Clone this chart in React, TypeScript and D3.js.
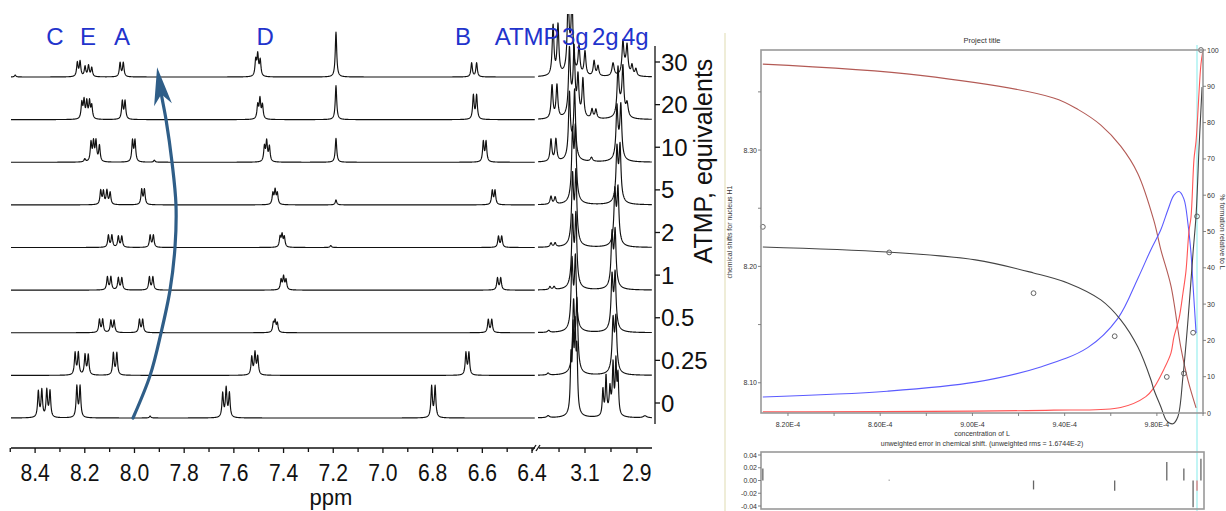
import React from "react";
import * as d3 from "d3";

// ---------------- LEFT PANEL DATA (NMR titration) ----------------
const traceLabels = ["0", "0.25", "0.5", "1", "2", "5", "10", "20", "30"];

// aromatic region peaks per trace: [ppm, intensity]
const aromaticPeaks: number[][][] = [
  [[8.387, 26], [8.373, 27], [8.353, 27], [8.34, 26], [8.232, 31], [8.219, 31], [7.937, 2], [7.645, 24], [7.631, 29], [7.618, 24], [6.804, 31], [6.79, 31]],
  [[8.239, 22], [8.226, 22], [8.199, 20], [8.186, 20], [8.085, 22], [8.071, 22], [7.528, 18], [7.515, 22], [7.504, 18], [6.666, 22], [6.654, 22]],
  [[8.141, 13], [8.128, 13], [8.095, 12], [8.082, 12], [7.98, 13], [7.967, 13], [7.441, 9], [7.434, 11], [7.425, 9], [6.576, 13], [6.562, 13]],
  [[8.109, 13], [8.095, 13], [8.065, 12], [8.051, 12], [7.94, 13], [7.926, 13], [7.41, 10], [7.4, 13], [7.39, 10], [6.539, 12], [6.526, 12]],
  [[8.105, 12], [8.091, 12], [8.065, 11], [8.051, 11], [7.937, 12], [7.924, 12], [7.414, 10], [7.406, 12], [7.397, 10], [7.21, 2], [6.535, 11], [6.522, 11]],
  [[8.136, 14], [8.125, 13], [8.111, 14], [8.098, 12], [7.971, 15], [7.96, 15], [7.443, 11], [7.434, 14], [7.425, 11], [7.189, 5], [6.56, 14], [6.549, 14]],
  [[8.2, 3], [8.175, 19], [8.165, 19], [8.155, 20], [8.141, 16], [8.008, 21], [7.998, 21], [7.92, 2], [7.477, 15], [7.468, 20], [7.457, 15], [7.189, 24], [6.596, 20], [6.585, 20]],
  [[8.212, 16], [8.203, 18], [8.192, 17], [8.181, 17], [8.172, 13], [8.049, 18], [8.038, 18], [7.504, 14], [7.495, 20], [7.485, 14], [7.189, 34], [6.636, 24], [6.623, 24]],
  [[8.48, 2], [8.23, 14], [8.219, 15], [8.199, 10], [8.185, 11], [8.172, 9], [8.058, 14], [8.045, 14], [7.512, 16], [7.504, 21], [7.494, 16], [7.189, 45], [6.643, 14], [6.623, 14]],
];

// aliphatic region peaks per trace: [ppm, intensity, half-width(ppm)]
const aliphaticPeaks: number[][][] = [
  [[3.242, 2, 0.006], [3.154, 50, 0.003], [3.146, 70, 0.003], [3.138, 72, 0.003], [3.131, 55, 0.003], [3.142, 12, 0.012], [3.031, 26, 0.003], [3.019, 38, 0.003], [3.004, 22, 0.003], [2.992, 45, 0.003], [2.981, 50, 0.003], [2.973, 38, 0.003], [2.998, 8, 0.015], [2.869, 2, 0.008]],
  [[3.242, 2, 0.005], [3.144, 60, 0.004], [3.131, 62, 0.004], [3.138, 14, 0.013], [2.992, 44, 0.004], [2.981, 46, 0.004], [2.987, 12, 0.013]],
  [[3.24, 2, 0.005], [3.15, 60, 0.004], [3.137, 62, 0.004], [3.143, 14, 0.013], [2.996, 46, 0.004], [2.984, 48, 0.004], [2.99, 12, 0.013]],
  [[3.235, 3, 0.004], [3.219, 3, 0.004], [3.148, 60, 0.004], [3.135, 62, 0.004], [3.141, 14, 0.013], [2.996, 46, 0.004], [2.984, 48, 0.004], [2.99, 12, 0.013]],
  [[3.231, 4, 0.004], [3.215, 4, 0.004], [3.148, 60, 0.004], [3.135, 62, 0.004], [3.141, 14, 0.013], [2.985, 46, 0.004], [2.973, 48, 0.004], [2.979, 12, 0.013]],
  [[3.231, 8, 0.004], [3.215, 7, 0.004], [3.148, 60, 0.004], [3.137, 62, 0.004], [3.142, 14, 0.013], [2.977, 46, 0.004], [2.965, 48, 0.004], [2.971, 12, 0.013]],
  [[3.231, 22, 0.004], [3.212, 22, 0.004], [3.16, 60, 0.004], [3.14, 62, 0.004], [3.15, 14, 0.013], [3.075, 4, 0.005], [2.977, 46, 0.004], [2.962, 48, 0.004], [2.97, 12, 0.013]],
  [[3.227, 33, 0.004], [3.208, 33, 0.004], [3.16, 60, 0.004], [3.142, 60, 0.004], [3.151, 14, 0.013], [3.127, 38, 0.004], [3.108, 38, 0.004], [3.073, 9, 0.004], [3.058, 9, 0.004], [2.973, 44, 0.004], [2.954, 44, 0.004], [2.963, 12, 0.013], [2.938, 13, 0.005]],
  [[3.223, 50, 0.004], [3.204, 50, 0.004], [3.165, 65, 0.004], [3.15, 65, 0.004], [3.158, 14, 0.013], [3.123, 28, 0.004], [3.1, 24, 0.004], [3.065, 15, 0.004], [3.05, 10, 0.004], [2.992, 13, 0.005], [2.954, 30, 0.004], [2.938, 26, 0.004], [2.946, 8, 0.012], [2.919, 10, 0.004], [2.904, 7, 0.004]],
];

const aromaticLabels = [
  { text: "C", ppm: 8.32 },
  { text: "E", ppm: 8.187 },
  { text: "A", ppm: 8.05 },
  { text: "D", ppm: 7.474 },
  { text: "B", ppm: 6.678 },
];
const startLabels = [
  { text: "ATMP", ppm: 6.55, seg: "L" },
  { text: "3g", ppm: 3.189, seg: "R" },
  { text: "2g", ppm: 3.073, seg: "R" },
  { text: "4g", ppm: 2.958, seg: "R" },
];
const leftMajorTicks = [8.4, 8.2, 8.0, 7.8, 7.6, 7.4, 7.2, 7.0, 6.8, 6.6, 6.4];
const leftMinorTicks = [8.5, 8.3, 8.1, 7.9, 7.7, 7.5, 7.3, 7.1, 6.9, 6.7, 6.5];
const rightMajorTicks = [3.1, 2.9];
const rightMinorTicks = [3.2, 3.0];

// arrow path in (ppm, trace index) coordinates
const arrowPts = [[8.006, 0], [7.937, 1], [7.893, 2], [7.857, 3], [7.837, 4], [7.833, 5], [7.849, 6], [7.873, 7], [7.892, 7.6], [7.9, 7.95]];
const arrowTip = [7.909, 8.23];

// ---------------- RIGHT PANEL DATA (fit) ----------------
// concentrations in units of 1E-4
const concTicks = [8.2, 8.6, 9.0, 9.4, 9.8];
const concMinorTicks = [8.4, 8.8, 9.2, 9.6, 10.0];
const shiftTicks = [8.1, 8.2, 8.3];
const shiftMinorTicks = [8.15, 8.25, 8.35];
const pctTicks = [0, 10, 20, 30, 40, 50, 60, 70, 80, 90, 100];
const residTicks = [0.04, 0.02, 0.0, -0.02, -0.04];

const freeLConc = [8.091, 8.774, 9.352, 9.461, 9.557, 9.643, 9.717, 9.787, 9.817, 9.861, 9.904, 9.935, 9.97];
const freeLPct = [96.1, 93.0, 86.8, 83.5, 79.3, 73.5, 66.0, 53.0, 45.0, 35.0, 18.0, 9.0, 1.4];

const complexConc = [8.091, 8.63, 9.013, 9.296, 9.5, 9.63, 9.717, 9.774, 9.817, 9.848, 9.874, 9.896, 9.917, 9.935, 9.948, 9.957, 9.97];
const complexPct = [4.4, 6.0, 8.5, 12.7, 18.0, 26.0, 37.0, 45.0, 50.5, 56.0, 60.0, 61.0, 59.0, 52.0, 44.0, 35.0, 22.0];

const otherConc = [8.091, 9.352, 9.643, 9.752, 9.787, 9.83, 9.861, 9.874, 9.896, 9.913, 9.926, 9.939, 9.948, 9.961, 9.97, 9.991, 10.0];
const otherPct = [0.3, 0.8, 1.5, 4.5, 7.0, 12.0, 16.5, 21.0, 26.0, 33.0, 39.0, 50.0, 54.0, 70.0, 75.0, 96.0, 100.0];

const fitConc = [8.091, 8.63, 9.013, 9.265, 9.413, 9.557, 9.643, 9.717, 9.774, 9.787, 9.817, 9.839, 9.852, 9.87, 9.891, 9.913, 9.935, 9.957, 9.97, 9.983, 9.996];
const fitShift = [8.2167, 8.2124, 8.2056, 8.1944, 8.1858, 8.1712, 8.1541, 8.1309, 8.1026, 8.094, 8.0794, 8.0682, 8.0657, 8.0648, 8.0708, 8.1052, 8.1541, 8.2124, 8.2442, 8.3026, 8.3541];

const obsConc = [8.091, 8.639, 9.265, 9.617, 9.843, 9.917, 9.957, 9.974, 9.991];
const obsShift = [8.234, 8.212, 8.177, 8.14, 8.105, 8.108, 8.143, 8.243, 8.386];
const residuals = [0.019, 0.001, -0.014, -0.016, 0.029, 0.019, -0.042, -0.016, 0.034];
const selectedConc = 9.974;

const FONT = "'Liberation Sans', Arial, Helvetica, sans-serif";

function lorentz(peaks: number[][], p: number, defW: number) {
  let s = 0;
  for (const pk of peaks) {
    const w = pk[2] ?? defW;
    const d = (p - pk[0]) / w;
    s += pk[1] / (1 + d * d);
  }
  return s;
}

export default function App() {
  // ---------- left panel scales ----------
  const xL = d3.scaleLinear().domain([8.497, 6.388]).range([11, 535]);
  const xR = d3.scaleLinear().domain([3.281, 2.842]).range([538, 652]);
  const yTrace = d3.scalePoint<string>().domain(traceLabels).range([418, 77]);
  const yIdx = d3.scaleLinear().domain([0, traceLabels.length - 1]).range([418, 77]);
  const yInt = d3.scaleLinear().domain([0, 100]).range([0, 100]);
  const axisY = 448;
  const rAxisX = 655;

  const gridL = d3.range(8.497, 6.388, -0.001);
  const gridR = d3.range(3.281, 2.842, -0.0008);

  const line = d3.line<[number, number]>().x((d) => d[0]).y((d) => d[1]);

  const tracePaths = traceLabels.map((lab, i) => {
    const base = yTrace(lab)!;
    const l = line(gridL.map((p) => [xL(p), base - yInt(lorentz(aromaticPeaks[i], p, 0.0035))]));
    const r = line(gridR.map((p) => [xR(p), base - yInt(lorentz(aliphaticPeaks[i], p, 0.004))]));
    return { l, r };
  });

  // arrow
  const arrowLine = d3
    .line<number[]>()
    .x((d) => xL(d[0]))
    .y((d) => yIdx(d[1]))
    .curve(d3.curveCatmullRom.alpha(0.5));
  const tip = [xL(arrowTip[0]), yIdx(arrowTip[1])];
  const prev = [xL(arrowPts[arrowPts.length - 2][0]), yIdx(arrowPts[arrowPts.length - 2][1])];
  let dx = tip[0] - prev[0], dy = tip[1] - prev[1];
  const dl = Math.hypot(dx, dy);
  dx /= dl; dy /= dl;
  const nx = -dy, ny = dx;
  const L = 38, Wd = 9;
  const head = [
    [tip[0], tip[1]],
    [tip[0] - dx * L + nx * Wd, tip[1] - dy * L + ny * Wd],
    [tip[0] - dx * L * 0.72, tip[1] - dy * L * 0.72],
    [tip[0] - dx * L - nx * Wd, tip[1] - dy * L - ny * Wd],
  ];

  // ---------- right panel scales ----------
  const x0 = 761, x1 = 1203, yTop = 50, yBot = 413;
  const xC = d3.scaleLinear().domain([8.083, 10.0]).range([x0, x1]);
  const yS = d3.scaleLinear().domain([8.074, 8.386]).range([yBot, yTop]);
  const yP = d3.scaleLinear().domain([0, 100]).range([yBot, yTop]);
  const rTop = 452, rBot = 509, rx1 = 1204;
  const yR = d3.scaleLinear().domain([-0.04, 0.04]).range([506, 455]);

  const curve = (xs: number[], ys: number[], ys2: (v: number) => number) =>
    d3
      .line<number>()
      .x((_, i) => xC(xs[i]))
      .y((v) => ys2(v))
      .curve(d3.curveCatmullRom.alpha(0.5))(ys);

  const small = { fontFamily: FONT, fontSize: 7, fill: "#333" } as const;

  return (
    <svg
      width={1226}
      height={511}
      style={{ position: "absolute", left: 0, top: 0, background: "#fff" }}
      xmlns="http://www.w3.org/2000/svg"
    >
      <rect x={0} y={0} width={1226} height={511} fill="#fff" />
      <defs>
        <clipPath id="specClip">
          <rect x={0} y={14} width={660} height={434} />
        </clipPath>
      </defs>

      {/* ===== LEFT PANEL ===== */}
      <g clipPath="url(#specClip)">
        {tracePaths.map((t, i) => (
          <g key={i} fill="none" stroke="#111" strokeWidth={1.15} strokeLinejoin="round">
            <path d={t.l ?? ""} />
            <path d={t.r ?? ""} />
          </g>
        ))}
      </g>

      {/* arrow */}
      <path d={arrowLine(arrowPts) ?? ""} fill="none" stroke="#2f5e88" strokeWidth={3.2} strokeLinecap="round" />
      <path d={`M${head.map((p) => p.join(",")).join("L")}Z`} fill="#2f5e88" />

      {/* peak labels */}
      <g fontFamily={FONT} fontSize={24} fill="#2233cc">
        {aromaticLabels.map((d) => (
          <text key={d.text} x={xL(d.ppm)} y={45} textAnchor="middle">
            {d.text}
          </text>
        ))}
        {startLabels.map((d) => (
          <text key={d.text} x={d.seg === "L" ? xL(d.ppm) : xR(d.ppm)} y={45}>
            {d.text}
          </text>
        ))}
      </g>

      {/* x axis */}
      <g stroke="#111" strokeWidth={1.3}>
        <line x1={11} x2={535} y1={axisY} y2={axisY} />
        <line x1={539} x2={652} y1={axisY} y2={axisY} />
        <line x1={532} x2={536} y1={axisY + 3} y2={axisY - 3} />
        <line x1={536} x2={540} y1={axisY + 3} y2={axisY - 3} />
        {leftMajorTicks.map((t) => (
          <line key={"lM" + t} x1={xL(t)} x2={xL(t)} y1={axisY} y2={axisY + 5} />
        ))}
        {leftMinorTicks.map((t) => (
          <line key={"lm" + t} x1={xL(t)} x2={xL(t)} y1={axisY} y2={axisY + 4} />
        ))}
        {rightMajorTicks.map((t) => (
          <line key={"rM" + t} x1={xR(t)} x2={xR(t)} y1={axisY} y2={axisY + 5} />
        ))}
        {rightMinorTicks.map((t) => (
          <line key={"rm" + t} x1={xR(t)} x2={xR(t)} y1={axisY} y2={axisY + 4} />
        ))}
      </g>
      <g fontFamily={FONT} fontSize={24} fill="#111" textAnchor="middle">
        {leftMajorTicks.map((t) => (
          <text key={"lt" + t} x={xL(t)} y={481} transform={`translate(${xL(t)},0) scale(0.88,1) translate(${-xL(t)},0)`}>
            {t.toFixed(1)}
          </text>
        ))}
        {rightMajorTicks.map((t) => (
          <text key={"rt" + t} x={xR(t)} y={481} transform={`translate(${xR(t)},0) scale(0.88,1) translate(${-xR(t)},0)`}>
            {t.toFixed(1)}
          </text>
        ))}
        <text x={331} y={505} fontSize={22}>
          ppm
        </text>
      </g>

      {/* right y axis (equivalents) */}
      <g stroke="#111" strokeWidth={1.3}>
        <line x1={rAxisX} x2={rAxisX} y1={46} y2={424} />
        {traceLabels.map((lab) => (
          <line key={lab} x1={rAxisX} x2={rAxisX + 5} y1={yTrace(lab)! - 15} y2={yTrace(lab)! - 15} />
        ))}
      </g>
      <g fontFamily={FONT} fontSize={24} fill="#111">
        {traceLabels.map((lab) => (
          <text key={lab} x={rAxisX + 6} y={yTrace(lab)! - 15 + 8.5}>
            {lab}
          </text>
        ))}
        <text transform="translate(712,161) rotate(-90)" textAnchor="middle" fontSize={25}>
          ATMP, equivalents
        </text>
      </g>

      {/* ===== RIGHT PANEL ===== */}
      <line x1={725} x2={725} y1={33} y2={511} stroke="#efedd8" strokeWidth={2} />

      <text x={(x0 + x1) / 2} y={43} textAnchor="middle" {...small} fontSize={7.5}>
        Project title
      </text>

      {/* selected point marker */}
      <line x1={xC(selectedConc)} x2={xC(selectedConc)} y1={45} y2={511} stroke="#aef2f2" strokeWidth={1.5} />

      {/* curves */}
      <g fill="none" strokeWidth={1.1}>
        <path d={curve(freeLConc, freeLPct, yP) ?? ""} stroke="#b35a55" />
        <path d={curve(complexConc, complexPct, yP) ?? ""} stroke="#5b5bff" />
        <path d={curve(otherConc, otherPct, yP) ?? ""} stroke="#ff5555" />
        <path d={curve(fitConc, fitShift, yS) ?? ""} stroke="#444" />
      </g>
      <g fill="none" stroke="#555" strokeWidth={0.9}>
        {obsConc.map((c, i) => (
          <circle key={i} cx={xC(c)} cy={yS(obsShift[i])} r={2.4} />
        ))}
      </g>

      {/* frame */}
      <rect x={x0} y={yTop} width={x1 - x0} height={yBot - yTop} fill="none" stroke="#999" strokeWidth={1.6} />
      <g stroke="#777" strokeWidth={0.9}>
        {shiftTicks.concat(shiftMinorTicks).map((t) => (
          <line key={"s" + t} x1={x0 - 3} x2={x0} y1={yS(t)} y2={yS(t)} />
        ))}
        {pctTicks.map((t) => (
          <line key={"p" + t} x1={x1} x2={x1 + 3} y1={yP(t)} y2={yP(t)} />
        ))}
        {concTicks.concat(concMinorTicks).map((t) => (
          <line key={"c" + t} x1={xC(t)} x2={xC(t)} y1={yBot} y2={yBot + 3} />
        ))}
      </g>
      <g {...small} textAnchor="end">
        {shiftTicks.map((t) => (
          <text key={t} x={x0 - 4} y={yS(t) + 2.5}>
            {t.toFixed(2)}
          </text>
        ))}
      </g>
      <g {...small}>
        {pctTicks.map((t) => (
          <text key={t} x={x1 + 4} y={yP(t) + 2.5}>
            {t}
          </text>
        ))}
      </g>
      <g {...small} textAnchor="middle">
        {concTicks.map((t) => (
          <text key={t} x={xC(t)} y={427}>
            {t.toFixed(2) + "E-4"}
          </text>
        ))}
        <text x={(x0 + x1) / 2} y={436}>concentration of L</text>
        <text x={(x0 + x1) / 2} y={446}>
          unweighted error in chemical shift. (unweighted rms = 1.6744E-2)
        </text>
      </g>
      <text transform={`translate(732,232) rotate(-90)`} textAnchor="middle" {...small}>
        chemical shifts for nucleus H1
      </text>
      <text transform={`translate(1220,232) rotate(90)`} textAnchor="middle" {...small}>
        % formation relative to L
      </text>

      {/* residual panel */}
      <rect x={x0} y={rTop} width={rx1 - x0} height={rBot - rTop} fill="none" stroke="#999" strokeWidth={1.6} />
      <g stroke="#777" strokeWidth={0.9}>
        {residTicks.map((t) => (
          <line key={t} x1={x0 - 3} x2={x0} y1={yR(t)} y2={yR(t)} />
        ))}
      </g>
      <g {...small} textAnchor="end">
        {residTicks.map((t) => (
          <text key={t} x={x0 - 4} y={yR(t) + 2.5}>
            {t.toFixed(2)}
          </text>
        ))}
      </g>
      <g strokeWidth={1.3}>
        {obsConc.map((c, i) => (
          <line
            key={i}
            x1={xC(c)}
            x2={xC(c)}
            y1={yR(0)}
            y2={yR(residuals[i])}
            stroke={c === selectedConc ? "#e07a7a" : "#666"}
          />
        ))}
      </g>
    </svg>
  );
}
